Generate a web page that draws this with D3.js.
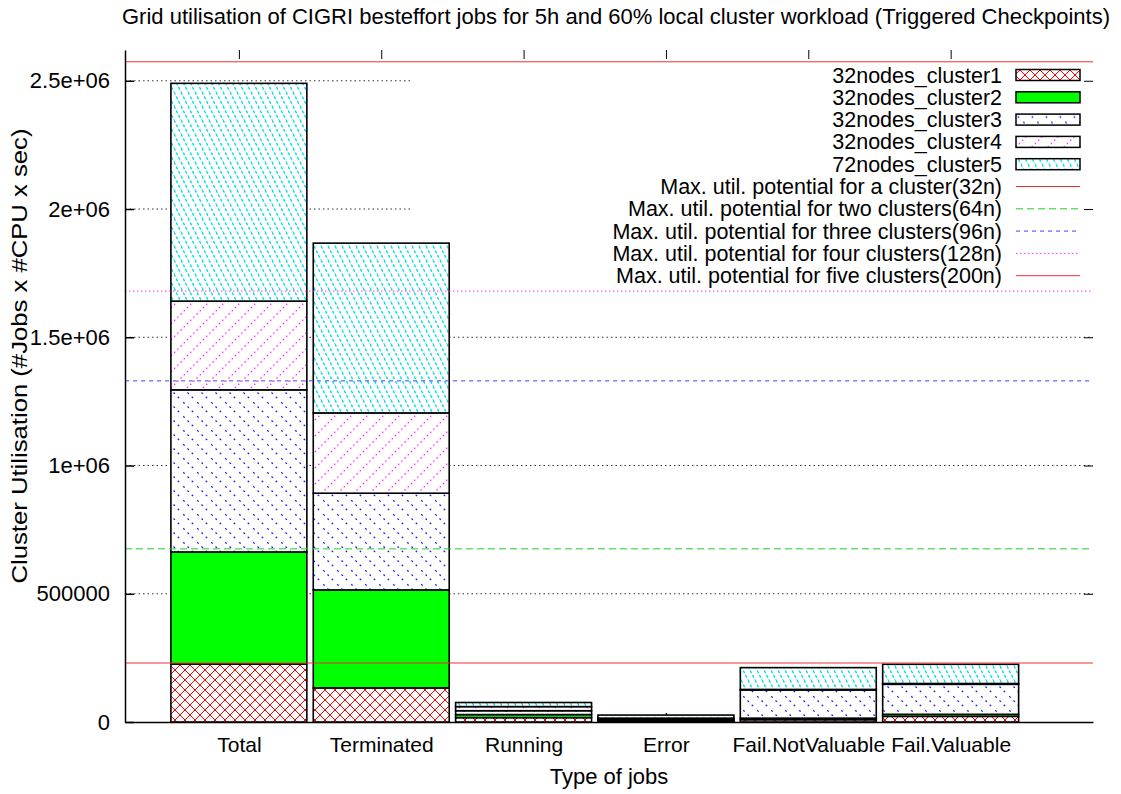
<!DOCTYPE html>
<html>
<head>
<meta charset="utf-8">
<script src="https://cdn.jsdelivr.net/npm/d3@7"></script>
<style>
body { margin: 0; background: #fff; }
</style>
</head>
<body>
<script>
// values (cluster utilisation, #jobs x #CPU x sec)
var categories = ["Total", "Terminated", "Running", "Error", "Fail.NotValuable", "Fail.Valuable"];
var clusterNames = ["32nodes_cluster1", "32nodes_cluster2", "32nodes_cluster3", "32nodes_cluster4", "72nodes_cluster5"];
var cluster1 = [226000, 133000, 17000, 2000, 9000, 22000];
var cluster2 = [437000, 382000, 12000, 4000, 6000, 8000];
var cluster3 = [632000, 377000, 15000, 5000, 110000, 117000];
var cluster4 = [346000, 313000, 16000, 4000, 2000, 3000];
var cluster5 = [849000, 662000, 16000, 12000, 85000, 75000];

var limitNames = ["Max. util. potential for a cluster(32n)",
    "Max. util. potential for two clusters(64n)",
    "Max. util. potential for three clusters(96n)",
    "Max. util. potential for four clusters(128n)",
    "Max. util. potential for five clusters(200n)"];
var limitValues = [230000, 675000, 1330000, 1680000, 2574000];

var yTickValues = [0, 500000, 1000000, 1500000, 2000000, 2500000];
var yTickLabels = ["0", "500000", "1e+06", "1.5e+06", "2e+06", "2.5e+06"];

var fontFam = "'Liberation Sans', Arial, Helvetica, sans-serif";
var fs = 22;

var margin = {top: 50, right: 28, bottom: 72, left: 125},
    width = 1121 - margin.left - margin.right,
    height = 794 - margin.top - margin.bottom;

var svgRoot = d3.select("body").append("svg")
    .attr("width", 1121)
    .attr("height", 794)
    .attr("font-family", fontFam);

// fill patterns, gnuplot style
var defs = svgRoot.append("defs");
function pattern(id, w, h, d, color, dash, sw) {
    var p = defs.append("pattern").attr("id", id)
        .attr("patternUnits", "userSpaceOnUse")
        .attr("width", w).attr("height", h);
    p.append("rect").attr("width", w).attr("height", h).attr("fill", "white");
    p.append("path").attr("d", d)
        .attr("stroke", color)
        .attr("stroke-width", sw || 1)
        .attr("stroke-dasharray", dash)
        .attr("fill", "none");
}
pattern("pat1", 10, 10, "M0,0L10,10M10,0L0,10M-1,9L1,11M9,-1L11,1", "#ff0000", null, 1);
pattern("pat3", 14, 14, "M-2,-2L16,16", "#2020ff", "2,4", 1.3);
pattern("pat4", 16, 16, "M-2,18L18,-2", "#ff20ff", "1.5,3", 1.2);
pattern("pat5", 7, 14, "M0,0L7,14M-3.5,7L0,14M3.5,-7L7,0", "#00e0e8", "3,2", 1.4);

var fills = ["url(#pat1)", "#00ff00", "url(#pat3)", "url(#pat4)", "url(#pat5)"];
var limitColors = ["#f03030", "#20d020", "#4040ff", "#ff30ff", "#f03030"];
var limitDash = [null, "7,4", "4,4", "1.5,2.5", null];

var svg = svgRoot.append("g")
    .attr("transform", "translate(" + margin.left + "," + margin.top + ")");

var x = d3.scaleLinear().domain([0.2, 7]).range([0, width]);
var y = d3.scaleLinear().domain([0, 2620000]).range([height, 0]);
var boxWidth = 0.955;

var tableData = categories.map(function(c, i) {
    return {cat: c, pos: i + 1, c1: cluster1[i], c2: cluster2[i], c3: cluster3[i], c4: cluster4[i], c5: cluster5[i]};
});
var stacked = d3.stack().keys(["c1", "c2", "c3", "c4", "c5"])(tableData);

// grid
svg.append("g").selectAll("line")
    .data(yTickValues.slice(1))
  .enter().append("line")
    .attr("x1", 0).attr("x2", width)
    .attr("y1", function(d) { return y(d); })
    .attr("y2", function(d) { return y(d); })
    .attr("stroke", "#333")
    .attr("stroke-width", 1)
    .attr("stroke-dasharray", "1.5,3");

// opaque key background
svg.append("rect")
    .attr("x", 285).attr("y", 14)
    .attr("width", width - 285).attr("height", 222)
    .attr("fill", "white");

// axes
var xAxis = svg.append("g")
    .attr("transform", "translate(0," + height + ")")
    .call(d3.axisBottom(x).tickValues([1, 2, 3, 4, 5, 6])
        .tickSize(-9).tickSizeOuter(0).tickPadding(15)
        .tickFormat(function(d, i) { return categories[i]; }));
svg.append("g")
    .call(d3.axisTop(x).tickValues([1, 2, 3, 4, 5, 6])
        .tickSize(-9).tickSizeOuter(0).tickFormat(""))
    .select(".domain").remove();

// stacked boxes
var layers = svg.selectAll(".layer")
    .data(stacked)
  .enter().append("g")
    .attr("class", "layer")
    .attr("fill", function(d, i) { return fills[i]; });
layers.selectAll("rect")
    .data(function(d) { return d; })
  .enter().append("rect")
    .attr("x", function(d) { return x(d.data.pos - boxWidth / 2); })
    .attr("width", function(d) { return x(d.data.pos + boxWidth / 2) - x(d.data.pos - boxWidth / 2); })
    .attr("y", function(d) { return y(d[1]); })
    .attr("height", function(d) { return y(d[0]) - y(d[1]); })
    .attr("stroke", "black")
    .attr("stroke-width", 1.6);

// utilisation potential lines
svg.append("g").selectAll("line")
    .data(limitValues)
  .enter().append("line")
    .attr("x1", 0).attr("x2", width)
    .attr("y1", function(d) { return y(d); })
    .attr("y2", function(d) { return y(d); })
    .attr("stroke", function(d, i) { return limitColors[i]; })
    .attr("stroke-dasharray", function(d, i) { return limitDash[i]; })
    .attr("stroke-width", 1);

// y axis + mirror ticks
var yAxis = svg.append("g")
    .call(d3.axisLeft(y).tickValues(yTickValues)
        .tickSize(-9).tickSizeOuter(0).tickPadding(15)
        .tickFormat(function(d, i) { return yTickLabels[i]; }));
svg.append("g")
    .attr("transform", "translate(" + width + ",0)")
    .call(d3.axisRight(y).tickValues(yTickValues.slice(1))
        .tickSize(-9).tickSizeOuter(0).tickFormat(""))
    .select(".domain").remove();

[xAxis, yAxis].forEach(function(a) {
    a.selectAll("text").attr("font-size", fs).attr("font-family", fontFam).attr("fill", "black");
    a.selectAll("path, line").attr("stroke-width", 1.5);
});
// x labels a bit smaller so the two long ones don't run together
xAxis.selectAll("text").attr("font-size", 21);

// legend
var keyRight = 1002 - margin.left, rowH = 22.3, row0 = 25;
var legendRows = clusterNames.map(function(n, i) { return {name: n, kind: "box", i: i}; })
    .concat(limitNames.map(function(n, i) { return {name: n, kind: "line", i: i}; }));
var key = svg.append("g").selectAll("g")
    .data(legendRows)
  .enter().append("g")
    .attr("transform", function(d, i) { return "translate(0," + (row0 + i * rowH) + ")"; });
key.append("text")
    .attr("x", keyRight)
    .attr("dy", "0.35em")
    .attr("text-anchor", "end")
    .attr("font-size", 21.5)
    .text(function(d) { return d.name; });
key.filter(function(d) { return d.kind == "box"; })
    .append("rect")
    .attr("x", keyRight + 14).attr("y", -5.5)
    .attr("width", 64).attr("height", 11)
    .attr("fill", function(d) { return fills[d.i]; })
    .attr("stroke", "black").attr("stroke-width", 1.5);
key.filter(function(d) { return d.kind == "line"; })
    .append("line")
    .attr("x1", keyRight + 14).attr("x2", keyRight + 78)
    .attr("stroke", function(d) { return limitColors[d.i]; })
    .attr("stroke-dasharray", function(d) { return limitDash[d.i]; })
    .attr("stroke-width", 1);

// titles
svgRoot.append("text")
    .attr("x", 616).attr("y", 24)
    .attr("text-anchor", "middle")
    .attr("font-size", fs)
    .text("Grid utilisation of CIGRI besteffort jobs for 5h and 60% local cluster workload (Triggered Checkpoints)");
svgRoot.append("text")
    .attr("x", margin.left + width / 2).attr("y", 784)
    .attr("text-anchor", "middle")
    .attr("font-size", fs)
    .text("Type of jobs");
svgRoot.append("text")
    .attr("transform", "translate(27,356) rotate(-90)")
    .attr("text-anchor", "middle")
    .attr("font-size", fs)
    .attr("textLength", 455)
    .attr("lengthAdjust", "spacingAndGlyphs")
    .text("Cluster Utilisation (#Jobs x #CPU x sec)");
</script>
</body>
</html>
